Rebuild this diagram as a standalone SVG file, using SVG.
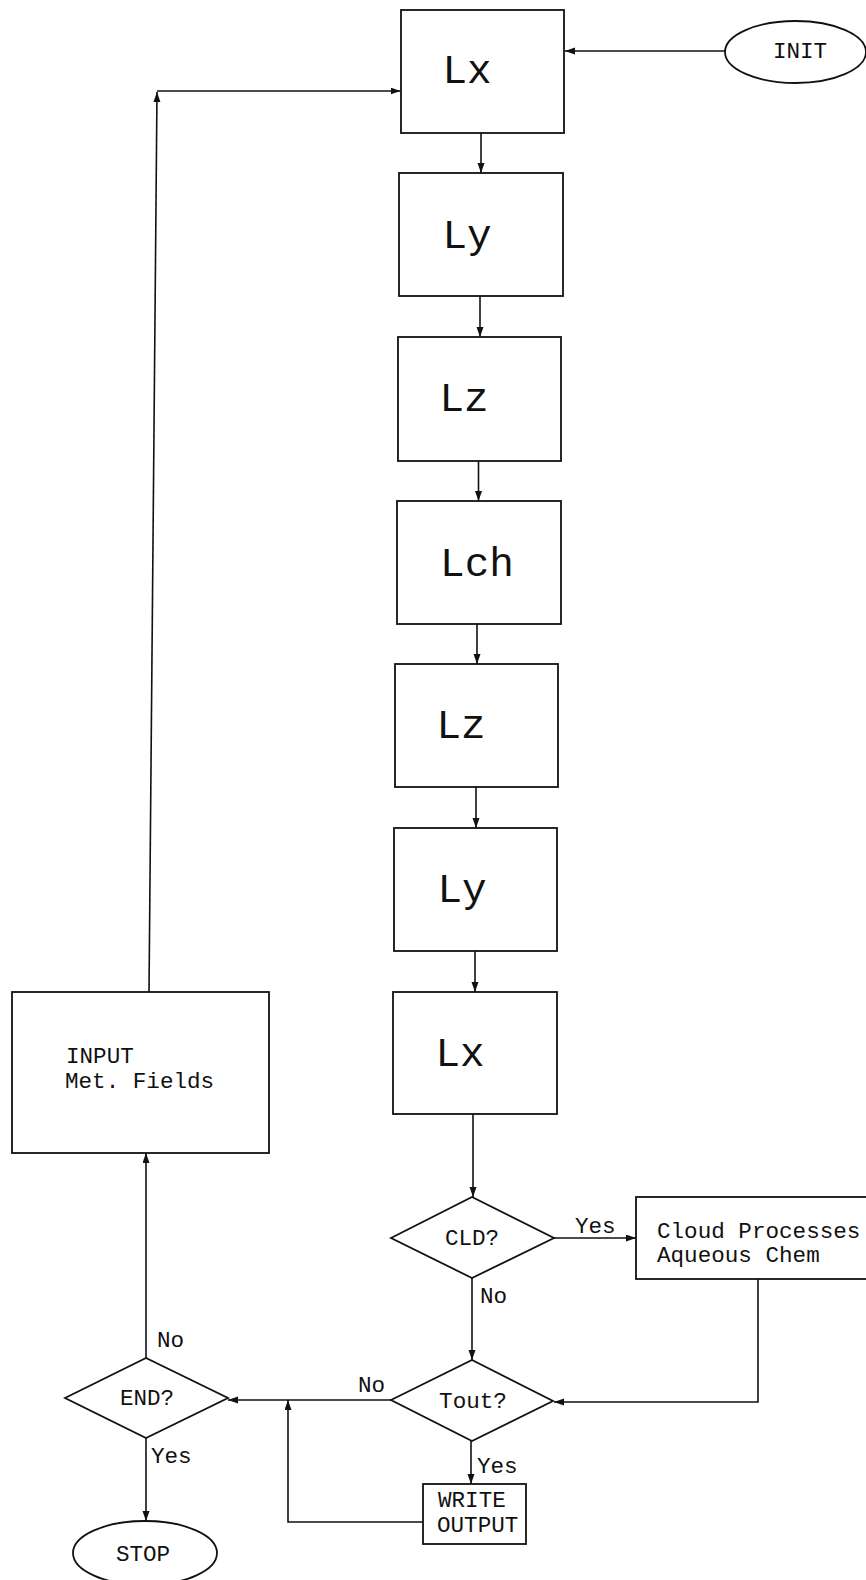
<svg xmlns="http://www.w3.org/2000/svg" width="866" height="1580" viewBox="0 0 866 1580">
<style>
.box{fill:#fff;stroke:#111;stroke-width:1.8}
.ln{fill:none;stroke:#111;stroke-width:1.6}
.big{font-family:"Liberation Mono","Courier New",monospace;font-size:41px;fill:#111;text-anchor:middle}
.t{font-family:"Liberation Mono","Courier New",monospace;font-size:22.6px;fill:#111}
.c{text-anchor:middle}
</style>
<defs>
<marker id="ah" markerWidth="11" markerHeight="8" refX="10" refY="3.5" orient="auto" markerUnits="userSpaceOnUse">
<path d="M0,0 L10,3.5 L0,7 z" fill="#111"/>
</marker>
</defs>
<g id="connectors">
<path class="ln" d="M725,51 H565" marker-end="url(#ah)"/>
<path class="ln" d="M149,992 L157,92" marker-end="url(#ah)"/>
<path class="ln" d="M157,91 H400.5" marker-end="url(#ah)"/>
<path class="ln" d="M481,133 V173" marker-end="url(#ah)"/>
<path class="ln" d="M480,296 V337" marker-end="url(#ah)"/>
<path class="ln" d="M478.5,461 V501" marker-end="url(#ah)"/>
<path class="ln" d="M477,624 V664" marker-end="url(#ah)"/>
<path class="ln" d="M476,787 V828" marker-end="url(#ah)"/>
<path class="ln" d="M475,951 V992" marker-end="url(#ah)"/>
<path class="ln" d="M473,1114 V1197" marker-end="url(#ah)"/>
<path class="ln" d="M554,1238 H636" marker-end="url(#ah)"/>
<path class="ln" d="M472,1278 V1360" marker-end="url(#ah)"/>
<path class="ln" d="M758,1279 V1402 H554" marker-end="url(#ah)"/>
<path class="ln" d="M391,1400 H228" marker-end="url(#ah)"/>
<path class="ln" d="M471,1441 V1484" marker-end="url(#ah)"/>
<path class="ln" d="M423,1522 H288 V1400" marker-end="url(#ah)"/>
<path class="ln" d="M146,1358 V1153" marker-end="url(#ah)"/>
<path class="ln" d="M146,1438 V1521" marker-end="url(#ah)"/>
<text class="t" x="575" y="1233">Yes</text>
<text class="t" x="480" y="1303">No</text>
<text class="t" x="358" y="1392">No</text>
<text class="t" x="477" y="1473">Yes</text>
<text class="t" x="157" y="1347">No</text>
<text class="t" x="151" y="1463">Yes</text>
</g>
<g id="init">
<ellipse class="box" cx="795.5" cy="52" rx="70.5" ry="31"/>
<text class="t c" x="800" y="58">INIT</text>
</g>
<g id="lx1">
<rect class="box" x="401" y="10" width="163" height="123"/>
<text class="big" x="467" y="83">Lx</text>
</g>
<g id="ly1">
<rect class="box" x="399" y="173" width="164" height="123"/>
<text class="big" x="467" y="248">Ly</text>
</g>
<g id="lz1">
<rect class="box" x="398" y="337" width="163" height="124"/>
<text class="big" x="464" y="411">Lz</text>
</g>
<g id="lch">
<rect class="box" x="397" y="501" width="164" height="123"/>
<text class="big" x="477" y="576">Lch</text>
</g>
<g id="lz2">
<rect class="box" x="395" y="664" width="163" height="123"/>
<text class="big" x="461" y="738">Lz</text>
</g>
<g id="ly2">
<rect class="box" x="394" y="828" width="163" height="123"/>
<text class="big" x="462" y="902">Ly</text>
</g>
<g id="lx2">
<rect class="box" x="393" y="992" width="164" height="122"/>
<text class="big" x="460" y="1066">Lx</text>
</g>
<g id="cld">
<polygon class="box" points="391,1238 472,1197 554,1238 472,1278"/>
<text class="t c" x="472" y="1245">CLD?</text>
</g>
<g id="cloud">
<rect class="box" x="636" y="1197" width="250" height="82"/>
<text class="t" x="657" y="1238">Cloud Processes</text>
<text class="t" x="657" y="1262">Aqueous Chem</text>
</g>
<g id="tout">
<polygon class="box" points="391,1400 472,1360 553,1401 472,1441"/>
<text class="t c" x="473" y="1408">Tout?</text>
</g>
<g id="write">
<rect class="box" x="423" y="1484" width="103" height="60"/>
<text class="t" x="438" y="1507">WRITE</text>
<text class="t" x="437" y="1532">OUTPUT</text>
</g>
<g id="end">
<polygon class="box" points="65,1398 146,1358 228,1398 146,1438"/>
<text class="t c" x="147" y="1405">END?</text>
</g>
<g id="stop">
<ellipse class="box" cx="145" cy="1553" rx="72" ry="32"/>
<text class="t c" x="143" y="1561">STOP</text>
</g>
<g id="input">
<rect class="box" x="12" y="992" width="257" height="161"/>
<text class="t" x="66" y="1063">INPUT</text>
<text class="t" x="65" y="1088">Met. Fields</text>
</g>
</svg>
